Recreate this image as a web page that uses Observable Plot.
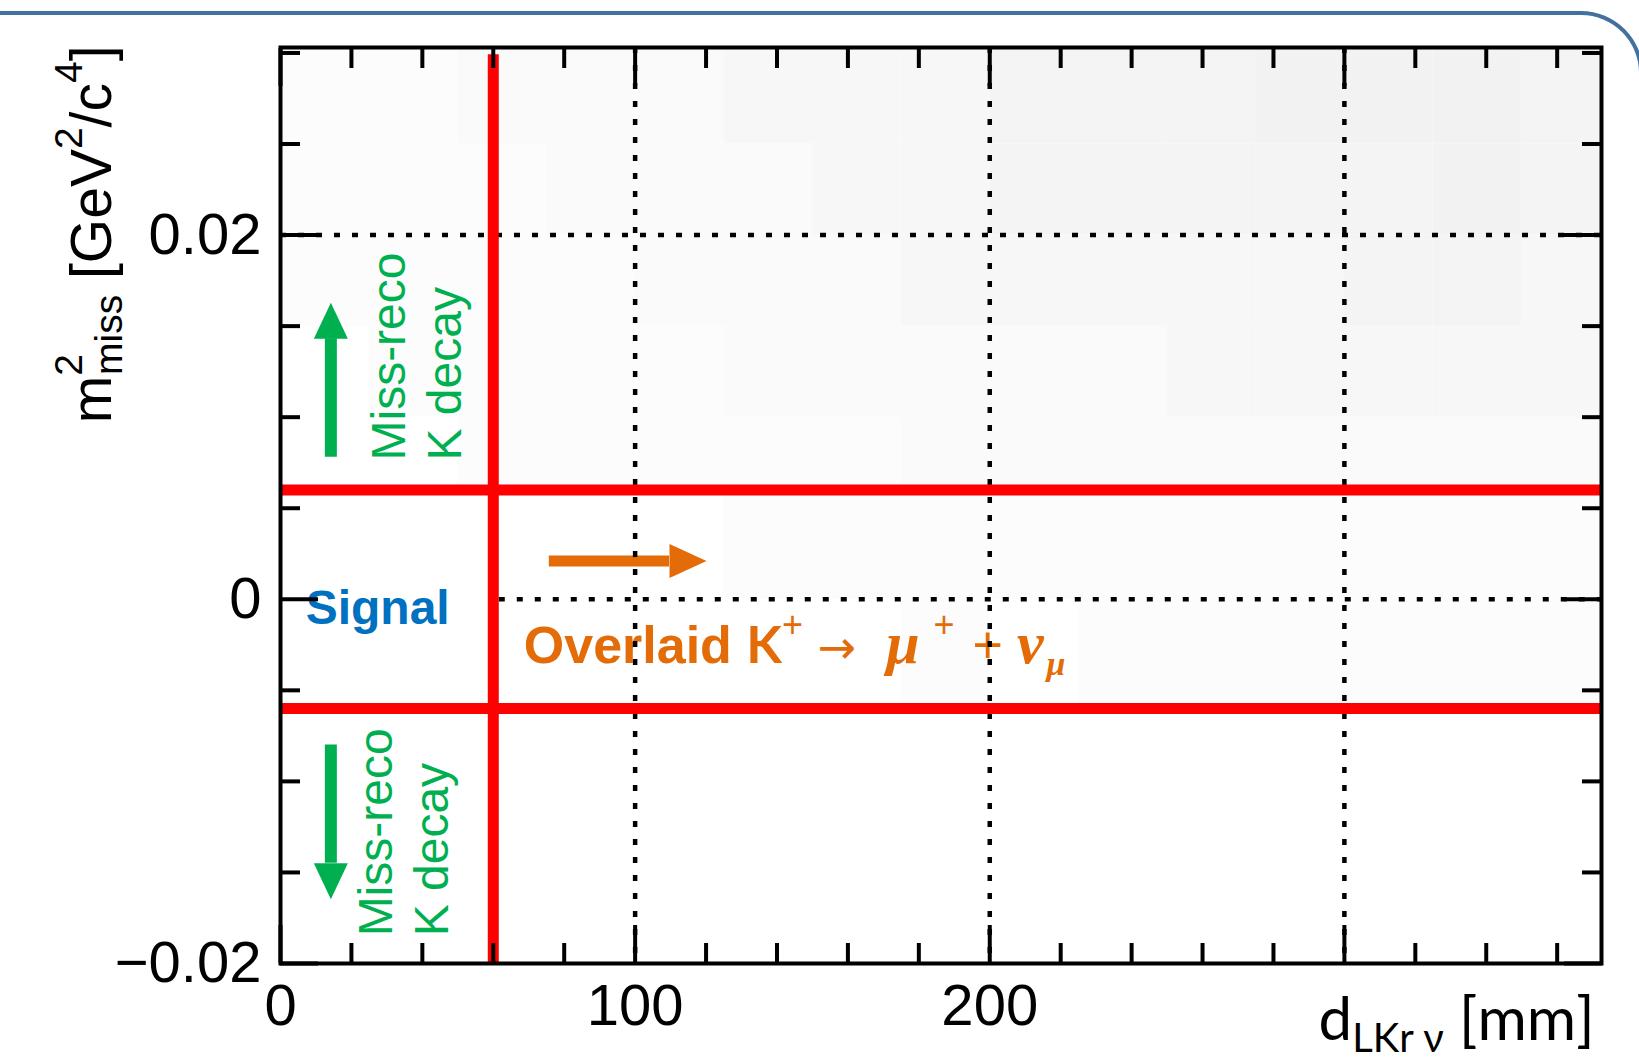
<!DOCTYPE html>
<html><head><meta charset="utf-8">
<script src="https://cdn.jsdelivr.net/npm/d3@7"></script>
<script src="https://cdn.jsdelivr.net/npm/@observablehq/plot@0.6"></script>
<style>
html,body{margin:0;padding:0;background:#fff;overflow:hidden;}
#wrap{position:relative;width:1639px;height:1061px;overflow:hidden;}
#chart{position:absolute;left:0;top:0;}
#border{position:absolute;left:-10px;top:11px;width:1653px;height:1200px;border-top:4px solid #41719c;border-right:4px solid #41719c;border-top-right-radius:62px;box-sizing:border-box;pointer-events:none;}
</style></head>
<body><div id="wrap"><div id="chart"></div><div id="border"></div></div>
<script>
// ---------- data ----------
const xDomain = [0, 372.5];
const yDomain = [-0.02, 0.0303];
const xMajorTicks = [0, 100, 200, 300];
const xMinorTicks = [20, 40, 60, 80, 120, 140, 160, 180, 220, 240, 260, 280, 320, 340, 360];
const xTickLabels = [0, 100, 200];
const yMajorTicks = [-0.02, 0, 0.02];
const yMinorTicks = [-0.015, -0.01, -0.005, 0.005, 0.01, 0.015, 0.025, 0.03];
const yTickLabels = [-0.02, 0, 0.02];
const xGrid = [100, 200, 300];
const yGridFull = [0.02];
const yGridPartial = [0];
const cutX = [60];
const cutXTop = 0.0299;
const cutY = [-0.006, 0.006];

// faint background histogram (counts, arbitrary units)
const heatXEdges = [0, 25, 50, 75, 100, 125, 150, 175, 200, 225, 250, 275, 300, 325, 350, 372.5];
const heatYEdges = [-0.006, 0, 0.006, 0.01, 0.015, 0.02, 0.025, 0.0303];
const heatRows = [
  [0, 0, 0, 0, 0, 0, 0, 1, 0, 1, 1, 1, 1, 1, 1],
  [0, 0, 0, 0, 0, 1, 1, 1, 1, 1, 1, 1, 1, 1, 1],
  [0, 0, 1, 1, 1, 1, 1, 2, 2, 2, 2, 2, 2, 2, 2],
  [0, 1, 1, 1, 1, 2, 2, 2, 2, 2, 3, 3, 3, 3, 3],
  [1, 1, 1, 1, 2, 2, 2, 3, 3, 3, 3, 3, 4, 4, 3],
  [1, 1, 1, 2, 2, 2, 3, 3, 4, 4, 4, 4, 4, 5, 4],
  [1, 1, 2, 2, 2, 3, 3, 3, 4, 4, 4, 5, 5, 5, 4]
];
const heatColorDomain = [0, 10];

// annotations
const orangeArrowX = [75.8, 109.7];
const orangeArrowY = [0.0021];
const greenArrowX = [14.2];
const greenUpY = [0.0078, 0.0143];
const greenDownY = [-0.0080, -0.0145];
const signalPos = [27.4, -0.00138];
const decayPos = [68.6, -0.00352];
const missUpPos = [50.8, 0.00762];
const missDownPos = [47.1, -0.01851];

// ---------- styles ----------
const orange = "#e36c09", green = "#00b050", blue = "#0070c0", red = "#ff0000";
const sans = "'Liberation Sans', Arial, Helvetica, sans-serif";
const W = 1639, H = 1061;

const heatData = [];
heatRows.forEach((row, j) => row.forEach((v, i) => heatData.push({
  x1: heatXEdges[i], x2: heatXEdges[i + 1], y1: heatYEdges[j], y2: heatYEdges[j + 1], v
})));

const fmtY = d => d === 0 ? "0" : (d < 0 ? "\u2212" : "") + Math.abs(d).toFixed(2);
const tickOpts = {strokeWidth: 4, tickFormat: () => "", label: null};

const plot = Plot.plot({
  width: W, height: H,
  marginLeft: 280, marginRight: 38, marginTop: 47, marginBottom: 98,
  x: {domain: xDomain},
  y: {domain: yDomain},
  color: {type: "linear", domain: heatColorDomain, range: ["#ffffff", "#e4e4e4"]},
  style: {fontFamily: sans, background: "transparent", overflow: "visible"},
  marks: [
    Plot.rect(heatData, {x1: "x1", x2: "x2", y1: "y1", y2: "y2", fill: "v"}),
    // annotations
    Plot.text(["Signal"], {x: signalPos[0], y: signalPos[1], text: d => d, fill: blue,
      fontSize: 48, fontWeight: "bold", textAnchor: "middle", lineAnchor: "bottom"}),
    Plot.text(["DECAYTEXT"], {x: decayPos[0], y: decayPos[1], text: d => d, fill: orange,
      fontSize: 52, fontWeight: "bold", textAnchor: "start", lineAnchor: "bottom"}),
    Plot.text(["Miss-reco\nK decay"], {x: missUpPos[0], y: missUpPos[1], text: d => d, fill: green,
      fontSize: 48, rotate: -90, textAnchor: "start", lineAnchor: "bottom", lineHeight: 1.15}),
    Plot.text(["Miss-reco\nK decay"], {x: missDownPos[0], y: missDownPos[1], text: d => d, fill: green,
      fontSize: 48, rotate: -90, textAnchor: "start", lineAnchor: "bottom", lineHeight: 1.15}),
    // orange arrow
    Plot.ruleY(orangeArrowY, {x1: orangeArrowX[0], x2: orangeArrowX[1], stroke: orange, strokeWidth: 11}),
    Plot.vector(orangeArrowY, {x: orangeArrowX[1], y: d => d, rotate: 90, length: 37, r: 17,
      shape: "spike", anchor: "start", fill: orange, stroke: "none"}),
    // green arrows
    Plot.ruleX(greenArrowX, {y1: greenUpY[0], y2: greenUpY[1], stroke: green, strokeWidth: 12}),
    Plot.vector(greenArrowX, {x: d => d, y: greenUpY[1], rotate: 0, length: 36, r: 17,
      shape: "spike", anchor: "start", fill: green, stroke: "none"}),
    Plot.ruleX(greenArrowX, {y1: greenDownY[0], y2: greenDownY[1], stroke: green, strokeWidth: 12}),
    Plot.vector(greenArrowX, {x: d => d, y: greenDownY[1], rotate: 180, length: 36, r: 17,
      shape: "spike", anchor: "start", fill: green, stroke: "none"}),
    // dotted grid
    Plot.ruleX(xGrid, {stroke: "black", strokeWidth: 4.5, strokeDasharray: "6 12"}),
    Plot.ruleY(yGridFull, {stroke: "black", strokeWidth: 4.5, strokeDasharray: "6 12"}),
    Plot.ruleY(yGridPartial, {x1: cutX[0], x2: xDomain[1], stroke: "black", strokeWidth: 4.5, strokeDasharray: "6 12", strokeDashoffset: 12}),
    // cut lines
    Plot.ruleY(cutY, {stroke: red, strokeWidth: 11}),
    Plot.ruleX(cutX, {y1: yDomain[0], y2: cutXTop, stroke: red, strokeWidth: 11}),
    // frame
    Plot.frame({stroke: "black", strokeWidth: 4}),
    // inward ticks
    Plot.axisX(xMinorTicks, {anchor: "bottom", tickSize: -20, ...tickOpts}),
    Plot.axisX(xMinorTicks, {anchor: "top", tickSize: -20, ...tickOpts}),
    Plot.axisX(xMajorTicks, {anchor: "bottom", tickSize: -38, ...tickOpts}),
    Plot.axisX(xMajorTicks, {anchor: "top", tickSize: -38, ...tickOpts}),
    Plot.axisY(yMinorTicks, {anchor: "left", tickSize: -20, ...tickOpts}),
    Plot.axisY(yMinorTicks, {anchor: "right", tickSize: -20, ...tickOpts}),
    Plot.axisY(yMajorTicks, {anchor: "left", tickSize: -38, ...tickOpts}),
    Plot.axisY(yMajorTicks, {anchor: "right", tickSize: -38, ...tickOpts}),
    // tick labels
    Plot.axisX(xTickLabels, {anchor: "bottom", tickSize: 0, tickPadding: 20, fontSize: 58,
      tickFormat: d => String(d), label: null, fill: "black"}),
    Plot.axisY(yTickLabels, {anchor: "left", tickSize: 0, tickPadding: 19, fontSize: 58,
      tickFormat: fmtY, label: null, fill: "black"}),
    // axis titles
    Plot.text(["YLABELTEXT"], {frameAnchor: "top-left", text: d => d, rotate: -90, dx: -170, dy: -2,
      textAnchor: "end", lineAnchor: "bottom", fontSize: 57, fill: "black"}),
    Plot.text(["XLABELTEXT"], {frameAnchor: "bottom-right", text: d => d, dx: -7, dy: 76,
      textAnchor: "end", lineAnchor: "bottom", fontSize: 60, fontFamily: "Lato, 'Open Sans', sans-serif", fill: "black"})
  ]
});

// rich text (sub/superscripts)
const rich = {
  "YLABELTEXT":
    '<tspan>m</tspan><tspan font-size="39" dy="-29">2</tspan><tspan font-size="39" dx="-21" dy="40">miss</tspan>' +
    '<tspan dy="-11"> [GeV</tspan><tspan font-size="39" dy="-29">2</tspan><tspan dy="29">/c</tspan>' +
    '<tspan font-size="39" dy="-29">4</tspan><tspan dy="29">]</tspan>',
  "XLABELTEXT":
    '<tspan>d</tspan><tspan font-size="40" dy="12">LKr \u03bd</tspan><tspan dy="-12"> [mm]</tspan>',
  "DECAYTEXT":
    '<tspan font-family="\'Liberation Sans\', Arial, sans-serif">Overlaid </tspan>' +
    '<tspan font-family="Lato, sans-serif">K</tspan>' +
    '<tspan font-size="36" font-weight="normal" dy="-26">+</tspan>' +
    '<tspan font-family="\'DejaVu Sans\', sans-serif" font-size="46" font-weight="normal" dy="26"> \u2192</tspan>' +
    '<tspan font-family="\'Liberation Serif\', serif" font-style="italic" font-size="60" dx="30">\u03bc</tspan>' +
    '<tspan font-size="36" font-weight="normal" dx="14" dy="-26">+</tspan>' +
    '<tspan font-weight="normal" dx="18" dy="26">+</tspan>' +
    '<tspan font-family="\'Liberation Serif\', serif" font-style="italic" font-size="60" dx="14">\u03bd</tspan>' +
    '<tspan font-family="\'Liberation Serif\', serif" font-style="italic" font-size="34" dx="3" dy="12">\u03bc</tspan>'
};
plot.querySelectorAll("text").forEach(t => {
  const key = t.textContent;
  if (rich[key]) t.innerHTML = rich[key];
});

document.getElementById("chart").appendChild(plot);
</script>
</body></html>
